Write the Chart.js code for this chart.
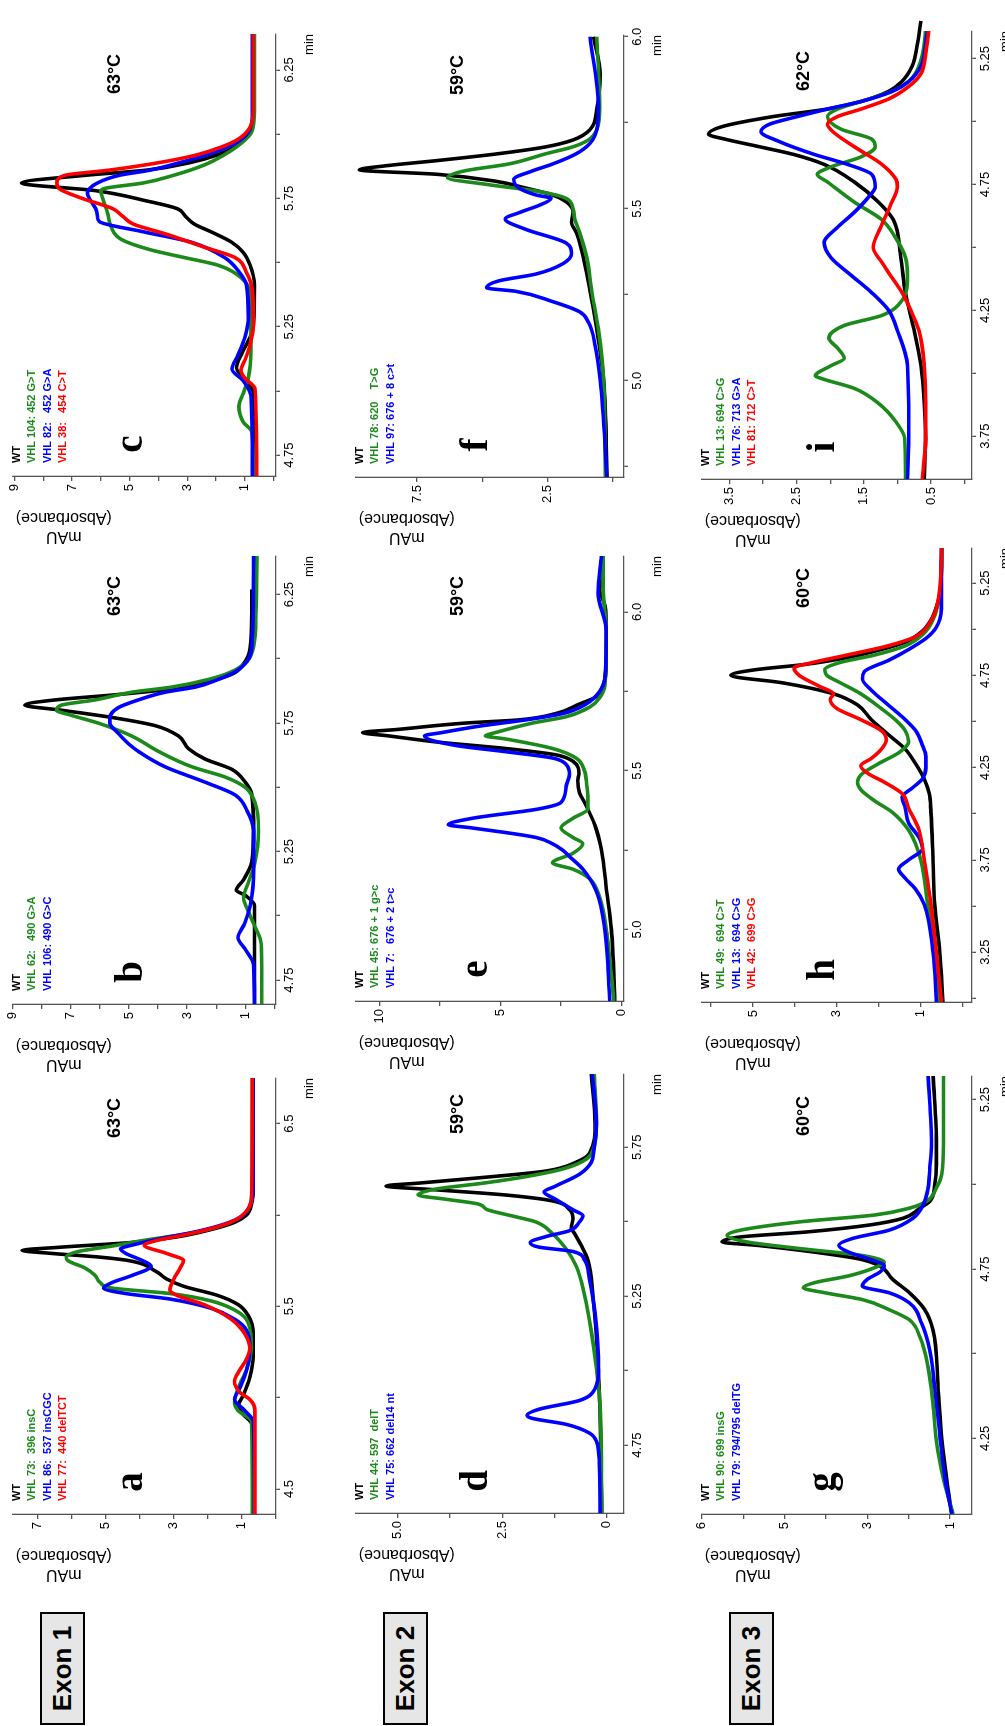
<!DOCTYPE html>
<html><head><meta charset="utf-8">
<script src="https://cdn.jsdelivr.net/npm/chart.js@4.4.1/dist/chart.umd.min.js"></script>
<style>
html,body{margin:0;padding:0;background:#fff;overflow:hidden;width:1005px;height:1726px;}
#fig{position:absolute;left:0;top:0;width:1726px;height:1005px;transform-origin:0 0;transform:translate(0px,1726px) rotate(-90deg);background:#fff;}
#fig canvas{position:absolute;}
.exon{position:absolute;left:1px;width:113px;height:45px;border:2px solid #000;background:#e6e6e6;font:bold 26px "Liberation Sans",Arial,sans-serif;display:flex;align-items:center;justify-content:center;box-sizing:border-box;color:#000;}
</style></head><body>
<div id="fig">
<div class="exon" style="top:40px">Exon 1</div>
<div class="exon" style="top:383px">Exon 2</div>
<div class="exon" style="top:729px">Exon 3</div>
</div>
<script>
// ---------- Panel a (Exon 1, 63°C) ----------
const a_WT=[[4.363,0.65],[4.85,0.68],[4.91,0.95],[4.95,1.10],[5.01,0.95],[5.11,0.75],[5.23,0.65],[5.35,0.65],[5.45,0.80],[5.51,1.10],[5.56,1.70],[5.61,2.70],[5.65,3.20],[5.69,3.50],[5.75,4.30],[5.77,5.20],[5.79,6.60],[5.806,7.45],[5.824,6.30],[5.85,4.20],[5.88,2.90],[5.92,1.90],[5.96,1.20],[6.0,0.85],[6.06,0.70],[6.15,0.65],[6.75,0.65]];
const a_73=[[4.363,0.68],[4.87,0.70],[4.93,1.10],[4.97,1.20],[5.05,1.10],[5.15,0.85],[5.27,0.70],[5.41,0.80],[5.47,1.10],[5.53,1.90],[5.57,3.10],[5.60,4.80],[5.63,5.15],[5.67,5.30],[5.71,5.60],[5.75,6.10],[5.77,6.15],[5.80,5.80],[5.83,4.80],[5.86,3.90],[5.90,2.50],[5.94,1.60],[5.98,1.10],[6.03,0.80],[6.15,0.68],[6.75,0.68]];
const a_86=[[4.363,0.62],[4.87,0.65],[4.93,0.90],[4.99,1.20],[5.05,1.05],[5.15,0.85],[5.27,0.75],[5.37,0.85],[5.43,1.20],[5.49,1.90],[5.54,3.10],[5.57,4.40],[5.60,5.05],[5.63,4.80],[5.67,4.20],[5.72,3.65],[5.75,3.90],[5.79,4.40],[5.814,4.55],[5.84,4.10],[5.87,3.40],[5.91,2.30],[5.95,1.50],[5.99,1.00],[6.05,0.75],[6.15,0.65],[6.75,0.65]];
const a_77=[[4.363,0.60],[4.93,0.60],[4.99,0.75],[5.03,1.05],[5.09,1.20],[5.15,1.05],[5.21,0.85],[5.27,0.75],[5.35,0.90],[5.43,1.30],[5.51,2.10],[5.56,2.90],[5.59,3.10],[5.65,2.98],[5.71,2.80],[5.75,2.70],[5.79,3.20],[5.834,3.85],[5.86,3.50],[5.89,2.70],[5.93,1.80],[5.97,1.20],[6.02,0.85],[6.09,0.70],[6.75,0.68]];
const aXTicks=[4.5,5.0,5.5,6.0,6.5], aXLabels=['4.5','','5.5','','6.5'];
const aYTicks=[0,1,2,3,4,5,6,7], aYLabels=['','1','','3','','5','','7'];
const aLegend=['WT','VHL 73:  396 insC','VHL 86:  537 insCGC','VHL 77:  440 delTCT'];

// ---------- Panel b ----------
const b_WT=[[4.657,0.68],[5.04,0.68],[5.08,1.0],[5.10,1.31],[5.14,1.06],[5.21,0.77],[5.33,0.71],[5.47,0.77],[5.52,1.0],[5.57,1.46],[5.61,2.38],[5.65,2.95],[5.70,3.30],[5.74,4.10],[5.77,5.48],[5.80,7.32],[5.82,8.59],[5.84,7.55],[5.86,5.48],[5.88,3.76],[5.91,2.38],[5.94,1.46],[5.98,1.06],[6.04,0.83],[6.18,0.77],[6.27,0.77]];
const b_62=[[4.657,0.43],[4.89,0.45],[4.97,0.71],[5.03,0.94],[5.07,1.06],[5.13,0.89],[5.21,0.66],[5.33,0.54],[5.44,0.66],[5.50,1.0],[5.54,1.69],[5.58,2.84],[5.64,3.99],[5.70,4.91],[5.75,6.06],[5.78,6.98],[5.80,7.49],[5.82,7.32],[5.84,6.17],[5.87,4.91],[5.89,3.53],[5.92,2.26],[5.95,1.46],[5.99,0.94],[6.05,0.71],[6.18,0.63],[6.40,0.60]];
const b_106=[[4.657,0.68],[4.81,0.71],[4.87,1.0],[4.915,1.25],[4.97,1.02],[5.04,0.83],[5.18,0.71],[5.33,0.71],[5.41,0.94],[5.47,1.34],[5.52,2.38],[5.58,3.76],[5.64,4.68],[5.67,5.02],[5.71,5.37],[5.75,5.66],[5.77,5.66],[5.81,5.37],[5.84,4.68],[5.87,3.76],[5.89,2.72],[5.92,1.92],[5.95,1.34],[5.99,0.94],[6.05,0.77],[6.40,0.71]];
const bXTicks=[4.75,5.0,5.25,5.5,5.75,6.0,6.25], bXLabels=['4.75','','5.25','','5.75','','6.25'];
const bYTicks=[0,1,2,3,4,5,6,7,8,9], bYLabels=['','1','','3','','5','','7','','9'];
const bLegend=['WT','VHL 62:   490 G>A','VHL 106: 490 G>C'];

// ---------- Panel c ----------
const c_WT=[[4.669,0.71],[4.99,0.70],[5.04,0.94],[5.09,1.29],[5.15,1.09],[5.21,0.82],[5.26,0.70],[5.41,0.67],[5.49,0.82],[5.54,1.06],[5.58,1.47],[5.62,2.18],[5.65,2.76],[5.68,3.06],[5.71,3.35],[5.74,4.41],[5.78,6.18],[5.81,8.76],[5.84,6.53],[5.86,4.41],[5.89,2.88],[5.92,1.94],[5.95,1.35],[5.98,1.0],[6.02,0.79],[6.09,0.71],[6.39,0.71]];
const c_104=[[4.669,0.70],[4.84,0.76],[4.88,1.06],[4.94,1.21],[4.99,1.06],[5.05,0.88],[5.16,0.79],[5.38,0.82],[5.44,1.12],[5.49,1.94],[5.52,3.12],[5.55,4.29],[5.59,5.29],[5.64,5.65],[5.69,5.76],[5.75,5.94],[5.78,6.0],[5.79,5.82],[5.81,4.53],[5.84,3.47],[5.88,2.41],[5.92,1.71],[5.96,1.18],[6.01,0.76],[6.09,0.67],[6.39,0.67]];
const c_82=[[4.669,0.74],[4.98,0.79],[5.04,1.06],[5.085,1.45],[5.14,1.24],[5.21,1.0],[5.29,0.88],[5.41,0.94],[5.46,1.18],[5.52,1.71],[5.58,2.88],[5.62,4.53],[5.66,6.06],[5.68,6.12],[5.71,6.18],[5.74,6.35],[5.77,6.47],[5.81,6.12],[5.84,5.35],[5.86,4.29],[5.89,3.24],[5.92,2.29],[5.95,1.59],[5.98,1.12],[6.02,0.82],[6.09,0.74],[6.39,0.74]];
const c_38=[[4.669,0.59],[5.01,0.65],[5.05,1.0],[5.08,1.14],[5.12,1.0],[5.18,0.82],[5.26,0.70],[5.39,0.74],[5.46,0.94],[5.52,1.35],[5.56,2.41],[5.61,3.71],[5.65,4.88],[5.68,5.24],[5.71,5.59],[5.75,6.65],[5.79,7.47],[5.81,7.53],[5.84,7.24],[5.86,5.71],[5.89,3.94],[5.92,2.65],[5.95,1.82],[5.98,1.24],[6.02,0.86],[6.09,0.71],[6.39,0.71]];
const cXTicks=[4.75,5.0,5.25,5.5,5.75,6.0,6.25], cXLabels=['4.75','','5.25','','5.75','','6.25'];
const cYTicks=[0,1,2,3,4,5,6,7,8,9], cYLabels=['','1','','3','','5','','7','','9'];
const cLegend=['WT','VHL 104: 452 G>T','VHL 82:   452 G>A','VHL 38:   454 C>T'];

// ---------- Panel d (Exon 2, 59°C) ----------
const d_WT=[[4.522,0.12],[5.0,0.20],[5.25,0.33],[5.37,0.45],[5.42,0.61],[5.46,0.77],[5.48,0.85],[5.51,0.81],[5.54,0.89],[5.57,1.30],[5.59,2.44],[5.607,4.07],[5.62,5.28],[5.63,4.47],[5.65,2.85],[5.67,1.46],[5.70,0.73],[5.73,0.41],[5.83,0.28],[5.996,0.37]];
const d_44=[[4.522,0.12],[4.88,0.16],[5.0,0.24],[5.13,0.37],[5.25,0.53],[5.35,0.73],[5.41,0.98],[5.46,1.30],[5.50,1.71],[5.52,2.28],[5.54,2.85],[5.56,3.09],[5.575,3.82],[5.59,4.51],[5.61,4.07],[5.63,2.93],[5.655,1.79],[5.68,0.98],[5.71,0.49],[5.74,0.33],[5.83,0.25],[5.996,0.30]];
const d_75=[[4.522,0.16],[4.69,0.18],[4.76,0.24],[4.79,0.41],[4.82,0.98],[4.84,1.79],[4.85,1.91],[4.87,1.63],[4.90,0.65],[4.94,0.28],[5.0,0.20],[5.19,0.28],[5.31,0.42],[5.37,0.53],[5.40,0.81],[5.415,1.63],[5.43,1.83],[5.45,1.46],[5.47,0.89],[5.50,0.65],[5.52,0.57],[5.54,0.81],[5.575,1.22],[5.60,1.50],[5.62,1.22],[5.66,0.65],[5.70,0.37],[5.74,0.31],[5.83,0.25],[5.996,0.35]];
const dXTicks=[4.75,5.0,5.25,5.5,5.75], dXLabels=['4.75','','5.25','','5.75'];
const dYTicks=[0,1.25,2.5,3.75,5.0], dYLabels=['0','','2.5','','5.0'];
const dLegend=['WT','VHL 44: 597  delT','VHL 75: 662 del14 nt'];

// ---------- Panel e ----------
const e_WT=[[4.775,0.28],[5.0,0.42],[5.13,0.63],[5.25,0.83],[5.33,1.11],[5.40,1.53],[5.43,1.74],[5.47,1.81],[5.49,1.76],[5.53,2.01],[5.55,2.71],[5.57,4.79],[5.59,7.57],[5.61,9.65],[5.62,10.69],[5.63,9.24],[5.65,6.46],[5.66,4.24],[5.68,2.71],[5.71,1.74],[5.73,1.11],[5.77,0.76],[5.83,0.63],[5.94,0.63],[6.02,0.69],[6.07,0.90],[6.12,0.76],[6.176,0.83]];
const e_45=[[4.775,0.32],[5.0,0.63],[5.10,0.90],[5.16,1.32],[5.19,2.01],[5.21,2.85],[5.24,2.01],[5.27,1.60],[5.29,2.01],[5.32,2.50],[5.35,2.01],[5.38,1.39],[5.42,1.39],[5.47,1.46],[5.50,1.53],[5.54,1.88],[5.57,2.85],[5.60,4.79],[5.61,5.63],[5.62,5.21],[5.65,3.68],[5.67,2.29],[5.70,1.32],[5.73,0.90],[5.77,0.69],[5.94,0.63],[6.07,0.76],[6.176,0.76]];
const e_7=[[4.775,0.49],[5.0,0.69],[5.12,1.04],[5.19,1.60],[5.23,2.15],[5.25,2.43],[5.27,2.85],[5.29,3.54],[5.32,6.18],[5.33,7.15],[5.35,6.18],[5.38,3.40],[5.40,2.50],[5.45,2.29],[5.49,2.15],[5.52,2.29],[5.54,2.85],[5.56,4.79],[5.58,6.88],[5.61,8.13],[5.62,7.43],[5.64,5.90],[5.66,3.96],[5.68,2.43],[5.71,1.46],[5.75,0.90],[5.79,0.69],[5.94,0.63],[6.06,0.97],[6.176,0.83]];
const eXTicks=[5.0,5.25,5.5,5.75,6.0], eXLabels=['5.0','','5.5','','6.0'];
const eYTicks=[0,2.5,5,7.5,10], eYLabels=['0','','5','','10'];
const eLegend=['WT','VHL 45: 676 + 1 g>c','VHL 7:   676 + 2 t>c'];

// ---------- Panel f ----------
const f_WT=[[4.72,0.23],[5.0,0.36],[5.15,0.62],[5.26,0.88],[5.36,1.14],[5.43,1.40],[5.46,1.59],[5.49,1.53],[5.52,1.79],[5.54,2.31],[5.56,3.34],[5.58,4.50],[5.60,6.72],[5.613,9.71],[5.625,8.67],[5.64,6.72],[5.66,4.38],[5.68,2.56],[5.70,1.53],[5.73,0.88],[5.79,0.62],[5.89,0.49],[6.0,0.75]];
const f_78=[[4.72,0.30],[5.0,0.36],[5.15,0.56],[5.26,0.81],[5.36,1.01],[5.43,1.27],[5.47,1.46],[5.50,1.53],[5.53,1.79],[5.55,2.82],[5.57,4.77],[5.59,6.33],[5.61,5.68],[5.63,3.99],[5.66,2.56],[5.68,1.53],[5.70,0.94],[5.73,0.62],[5.79,0.51],[6.0,0.62]];
const f_97=[[4.72,0.23],[5.0,0.49],[5.10,0.68],[5.17,0.94],[5.20,1.27],[5.23,2.31],[5.26,3.73],[5.27,4.84],[5.29,4.38],[5.31,2.95],[5.34,1.92],[5.37,1.59],[5.40,1.79],[5.44,3.34],[5.47,4.12],[5.49,3.54],[5.51,2.82],[5.53,2.37],[5.54,2.95],[5.56,3.60],[5.585,3.80],[5.61,3.08],[5.63,2.31],[5.66,1.40],[5.69,0.88],[5.73,0.62],[5.79,0.56],[6.0,0.88]];
const fXTicks=[4.75,5.0,5.25,5.5,5.75,6.0], fXLabels=['','5.0','','5.5','','6.0'];
const fYTicks=[0,2.5,5,7.5], fYLabels=['','2.5','','7.5'];
const fLegend=['WT','VHL 78: 620    T>G','VHL 97: 676 + 8 c>t'];

// ---------- Panel g (Exon 3, 60°C) ----------
const g_WT=[[4.027,0.96],[4.13,1.08],[4.25,1.20],[4.40,1.29],[4.57,1.41],[4.63,1.61],[4.68,1.98],[4.72,2.39],[4.76,2.71],[4.78,3.20],[4.80,4.27],[4.82,5.65],[4.83,6.51],[4.845,6.06],[4.86,4.43],[4.88,2.96],[4.90,2.14],[4.93,1.73],[4.95,1.49],[5.0,1.37],[5.06,1.33],[5.12,1.33],[5.32,1.41]];
const g_90=[[4.027,0.93],[4.13,1.16],[4.24,1.33],[4.35,1.41],[4.46,1.53],[4.55,1.73],[4.60,1.98],[4.63,2.47],[4.66,3.12],[4.68,4.02],[4.695,4.55],[4.71,4.27],[4.73,3.45],[4.76,2.71],[4.77,2.59],[4.79,3.12],[4.81,4.59],[4.83,5.90],[4.85,6.39],[4.865,6.06],[4.89,4.59],[4.91,2.80],[4.93,1.98],[4.95,1.57],[4.99,1.33],[5.03,1.20],[5.12,1.16],[5.32,1.16]];
const g_79=[[4.027,0.96],[4.13,1.12],[4.25,1.24],[4.40,1.37],[4.51,1.49],[4.59,1.69],[4.65,1.98],[4.68,2.47],[4.70,3.12],[4.72,3.0],[4.74,2.71],[4.76,2.59],[4.78,2.96],[4.80,3.45],[4.82,3.69],[4.84,3.37],[4.865,2.47],[4.90,1.90],[4.94,1.65],[4.99,1.53],[5.05,1.49],[5.12,1.45],[5.32,1.53]];
const gXTicks=[4.25,4.5,4.75,5.0,5.25], gXLabels=['4.25','','4.75','','5.25'];
const gYTicks=[1,2,3,4,5,6,7], gYLabels=['1','','3','','5','','6'];
const gLegend=['WT','VHL 90: 699 insG','VHL 79: 794/795 delTG'];

// ---------- Panel h ----------
const h_WT=[[2.98,0.47],[3.25,0.55],[3.51,0.67],[3.75,0.71],[4.01,0.76],[4.11,0.80],[4.19,0.92],[4.27,1.12],[4.35,1.37],[4.43,1.78],[4.51,2.18],[4.59,2.51],[4.65,3.08],[4.71,4.31],[4.75,5.53],[4.78,4.96],[4.81,3.73],[4.85,2.67],[4.89,1.94],[4.93,1.37],[4.99,0.96],[5.07,0.71],[5.19,0.55],[5.31,0.51],[5.44,0.50]];
const h_49=[[2.98,0.55],[3.25,0.67],[3.51,0.84],[3.75,1.0],[3.91,1.29],[4.01,1.69],[4.07,2.10],[4.13,2.43],[4.17,2.51],[4.21,2.43],[4.27,2.02],[4.33,1.53],[4.39,1.29],[4.45,1.37],[4.51,1.61],[4.57,1.94],[4.65,2.43],[4.71,2.92],[4.75,3.24],[4.78,3.29],[4.82,2.92],[4.86,2.10],[4.91,1.37],[4.97,0.96],[5.05,0.71],[5.19,0.55],[5.44,0.50]];
const h_13=[[2.98,0.63],[3.25,0.71],[3.51,0.92],[3.59,1.12],[3.65,1.37],[3.70,1.53],[3.75,1.29],[3.81,0.96],[3.87,1.04],[3.95,1.29],[4.03,1.37],[4.09,1.45],[4.14,1.20],[4.19,0.96],[4.25,0.88],[4.31,0.88],[4.37,0.96],[4.45,1.12],[4.51,1.37],[4.59,1.78],[4.67,2.18],[4.73,2.39],[4.77,2.35],[4.83,1.78],[4.89,1.29],[4.95,0.88],[5.01,0.63],[5.11,0.51],[5.44,0.51]];
const h_42=[[2.98,0.51],[3.25,0.63],[3.51,0.76],[3.75,0.92],[3.91,1.04],[4.03,1.29],[4.11,1.45],[4.17,1.86],[4.22,2.27],[4.26,2.43],[4.30,2.18],[4.35,1.94],[4.40,1.82],[4.45,1.94],[4.51,2.43],[4.57,3.0],[4.62,3.16],[4.65,3.08],[4.69,3.41],[4.75,3.90],[4.79,4.02],[4.82,3.57],[4.86,2.76],[4.91,1.78],[4.96,1.12],[5.03,0.80],[5.15,0.59],[5.44,0.50]];
const hXTicks=[3.0,3.25,3.5,3.75,4.0,4.25,4.5,4.75,5.0,5.25], hXLabels=['','3.25','','3.75','','4.25','','4.75','','5.25'];
const hYTicks=[0,1,2,3,4,5,6], hYLabels=['','1','','3','','5',''];
const hLegend=['WT','VHL 49:  694 C>T','VHL 13:  694 C>G','VHL 42:  699 C>G'];

// ---------- Panel i (62°C) ----------
const i_WT=[[3.58,0.60],[3.74,0.58],[3.88,0.60],[4.03,0.65],[4.17,0.75],[4.32,0.88],[4.46,0.95],[4.61,1.06],[4.68,1.28],[4.76,1.64],[4.83,2.09],[4.87,2.55],[4.90,3.05],[4.93,3.56],[4.95,3.81],[4.98,3.61],[5.02,2.85],[5.05,2.04],[5.08,1.54],[5.12,1.13],[5.16,0.93],[5.22,0.78],[5.31,0.70],[5.40,0.65],[5.45,0.63]];
const i_13=[[3.58,0.88],[3.74,0.89],[3.81,1.03],[3.88,1.28],[3.94,1.64],[3.98,2.14],[3.99,2.22],[4.03,1.99],[4.06,1.79],[4.10,1.89],[4.14,2.02],[4.19,1.79],[4.23,1.23],[4.29,0.93],[4.38,0.85],[4.46,0.88],[4.54,1.03],[4.61,1.23],[4.68,1.64],[4.76,2.04],[4.79,2.19],[4.82,1.99],[4.86,1.54],[4.90,1.33],[4.93,1.38],[4.97,1.84],[5.02,2.04],[5.05,1.89],[5.08,1.54],[5.12,1.08],[5.16,0.83],[5.22,0.68],[5.31,0.60],[5.37,0.58]];
const i_76=[[3.58,0.85],[3.74,0.83],[4.03,0.85],[4.17,1.0],[4.25,1.13],[4.32,1.38],[4.39,1.69],[4.46,1.99],[4.52,2.09],[4.58,1.89],[4.64,1.64],[4.70,1.43],[4.74,1.33],[4.79,1.38],[4.83,1.74],[4.87,2.24],[4.92,2.75],[4.96,3.03],[4.99,2.90],[5.02,2.49],[5.05,2.04],[5.08,1.54],[5.12,1.08],[5.16,0.83],[5.22,0.65],[5.31,0.58],[5.37,0.55]];
const i_81=[[3.58,0.63],[3.74,0.58],[3.88,0.58],[4.03,0.60],[4.17,0.68],[4.25,0.80],[4.32,0.93],[4.38,1.08],[4.44,1.23],[4.50,1.36],[4.58,1.25],[4.67,1.10],[4.74,1.0],[4.77,1.02],[4.83,1.23],[4.90,1.64],[4.96,1.96],[4.99,2.04],[5.02,1.89],[5.05,1.54],[5.09,1.13],[5.14,0.83],[5.19,0.65],[5.27,0.58],[5.37,0.53]];
const iXTicks=[3.75,4.0,4.25,4.5,4.75,5.0,5.25], iXLabels=['3.75','','4.25','','4.75','','5.25'];
const iYTicks=[0,0.5,1,1.5,2,2.5,3,3.5], iYLabels=['','0.5','','1.5','','2.5','','3.5'];
const iLegend=['WT','VHL 13: 694 C>G','VHL 76: 713 G>A','VHL 81: 712 C>T'];

// ---------- styling / layout ----------
const BLACK='#000000', GREEN='#1b8a1b', BLUE='#0000ff', RED='#ff0000';
Chart.defaults.font.family='"Liberation Sans", Arial, Helvetica, sans-serif';
Chart.defaults.color='#000';

const panelText={
  id:'panelText',
  afterDraw(chart,args,o){
    const ctx=chart.ctx, ca=chart.chartArea;
    ctx.save();
    ctx.textAlign='left'; ctx.textBaseline='middle';
    ctx.font='bold 11px "Liberation Sans", Arial, sans-serif';
    o.legend.forEach((t,k)=>{ctx.fillStyle=o.colors[k]; ctx.fillText(t, ca.left+13, ca.top+4+k*15.5);});
    ctx.fillStyle='#000';
    ctx.textAlign='center'; ctx.textBaseline='alphabetic';
    ctx.font='bold 39px "Liberation Serif", "Times New Roman", serif';
    ctx.fillText(o.letter, ca.left+32, ca.top+(ca.bottom-ca.top)*0.49);
    ctx.textBaseline='middle';
    ctx.font='bold 18px "Liberation Sans", Arial, sans-serif';
    ctx.fillText(o.temp, ca.right-40, ca.top+102);
    ctx.font='16px "Liberation Sans", Arial, sans-serif';
    ctx.translate(ca.left-41, ca.top+51);
    ctx.rotate(-Math.PI/2);
    ctx.fillText('(Absorbance)',0,0);
    ctx.fillText('mAU',0,-19);
    ctx.restore();
  }
};

function makePanel(p){
  const padL=80,padT=10,padR=15,padB=50;
  const [l,r,t,b]=p.box;
  const W=(r-l)+padL+padR, H=(b-t)+padT+padB;
  const cv=document.createElement('canvas');
  cv.width=W; cv.height=H;
  cv.style.left=(l-padL)+'px'; cv.style.top=(t-padT)+'px';
  cv.style.width=W+'px'; cv.style.height=H+'px';
  document.getElementById('fig').appendChild(cv);
  const datasets=p.series.map(s=>{
    const ds={data:s.d.map(q=>({x:q[0],y:q[1]})),borderColor:s.c,borderWidth:3.6,pointRadius:0,showLine:true,fill:false,cubicInterpolationMode:'monotone',order:s.o};
    if(s.noclip) ds.clip=false;
    return ds;
  });
  new Chart(cv,{
    type:'scatter',
    data:{datasets},
    options:{
      responsive:false,animation:false,devicePixelRatio:1,events:[],
      layout:{padding:{left:0,top:padT,right:padR,bottom:0}},
      plugins:{legend:{display:false},tooltip:{enabled:false},
        panelText:{legend:p.legend,colors:p.series.map(s=>s.c),letter:p.letter,temp:p.temp}},
      scales:{
        x:{type:'linear',min:p.x[0],max:p.x[1],bounds:'data',
          afterBuildTicks:s=>{s.ticks=p.xt.map(v=>({value:v}));},
          afterFit:s=>{s.height=padB;},
          ticks:{autoSkip:false,maxRotation:0,minRotation:0,padding:2,font:{size:13},color:'#000',callback:(v,k)=>p.xl[k]},
          grid:{drawOnChartArea:false,drawTicks:true,tickLength:4,color:'#555',lineWidth:1.3},
          border:{display:true,color:'#555',width:1.3},
          title:{display:true,text:'min',align:'end',font:{size:13},color:'#000',padding:{top:0,bottom:9}}
        },
        y:{type:'linear',min:p.y[0],max:p.y[1],bounds:'data',
          afterBuildTicks:s=>{s.ticks=p.yt.map(v=>({value:v}));},
          afterFit:s=>{s.width=padL;},
          ticks:{autoSkip:false,padding:3,font:{size:13},color:'#000',callback:(v,k)=>p.yl[k]},
          grid:{drawOnChartArea:false,drawTicks:true,tickLength:5,color:'#555',lineWidth:1.3},
          border:{display:true,color:'#555',width:1.3}
        }
      }
    },
    plugins:[panelText]
  });
}

const panels=[
  {letter:'a',temp:'63°C',box:[212,648,12,276],x:[4.363,6.75],y:[-0.02,7.72],xt:aXTicks,xl:aXLabels,yt:aYTicks,yl:aYLabels,legend:aLegend,
   series:[{d:a_WT,c:BLACK,o:4},{d:a_73,c:GREEN,o:3},{d:a_86,c:BLUE,o:2},{d:a_77,c:RED,o:1}]},
  {letter:'b',temp:'63°C',box:[722,1170,12,276],x:[4.657,6.40],y:[-0.06,9.0],xt:bXTicks,xl:bXLabels,yt:bYTicks,yl:bYLabels,legend:bLegend,
   series:[{d:b_WT,c:BLACK,o:3},{d:b_62,c:GREEN,o:2},{d:b_106,c:BLUE,o:1}]},
  {letter:'c',temp:'63°C',box:[1250,1692,12,276],x:[4.669,6.39],y:[-0.08,9.06],xt:cXTicks,xl:cXLabels,yt:cYTicks,yl:cYLabels,legend:cLegend,
   series:[{d:c_WT,c:BLACK,o:4},{d:c_104,c:GREEN,o:3},{d:c_82,c:BLUE,o:2},{d:c_38,c:RED,o:1}]},
  {letter:'d',temp:'59°C',box:[213,652,355,624],x:[4.522,5.996],y:[-0.41,6.0],xt:dXTicks,xl:dXLabels,yt:dYTicks,yl:dYLabels,legend:dLegend,
   series:[{d:d_WT,c:BLACK,o:3},{d:d_44,c:GREEN,o:2},{d:d_75,c:BLUE,o:1}]},
  {letter:'e',temp:'59°C',box:[725,1170,355,624],x:[4.775,6.176],y:[-0.1,10.97],xt:eXTicks,xl:eXLabels,yt:eYTicks,yl:eYLabels,legend:eLegend,
   series:[{d:e_WT,c:BLACK,o:3},{d:e_45,c:GREEN,o:2},{d:e_7,c:BLUE,o:1}]},
  {letter:'f',temp:'59°C',box:[1249,1691,355,624],x:[4.72,6.005],y:[-0.42,9.84],xt:fXTicks,xl:fXLabels,yt:fYTicks,yl:fYLabels,legend:fLegend,
   series:[{d:f_WT,c:BLACK,o:3},{d:f_78,c:GREEN,o:2},{d:f_97,c:BLUE,o:1}]},
  {letter:'g',temp:'60°C',box:[212,650,701,972],x:[4.027,5.32],y:[0.47,7.0],xt:gXTicks,xl:gXLabels,yt:gYTicks,yl:gYLabels,legend:gLegend,
   series:[{d:g_WT,c:BLACK,o:3},{d:g_90,c:GREEN,o:2},{d:g_79,c:BLUE,o:1}]},
  {letter:'h',temp:'60°C',box:[724,1178,701,972],x:[2.98,5.44],y:[-0.22,6.22],xt:hXTicks,xl:hXLabels,yt:hYTicks,yl:hYLabels,legend:hLegend,
   series:[{d:h_WT,c:BLACK,o:4},{d:h_49,c:GREEN,o:3},{d:h_13,c:BLUE,o:2},{d:h_42,c:RED,o:1}]},
  {letter:'i',temp:'62°C',box:[1247,1695,701,972],x:[3.58,5.36],y:[-0.11,3.91],xt:iXTicks,xl:iXLabels,yt:iYTicks,yl:iYLabels,legend:iLegend,
   series:[{d:i_WT,c:BLACK,o:4,noclip:true},{d:i_13,c:GREEN,o:3},{d:i_76,c:BLUE,o:2},{d:i_81,c:RED,o:1}]}
];
panels.forEach(makePanel);
</script>
</body></html>
